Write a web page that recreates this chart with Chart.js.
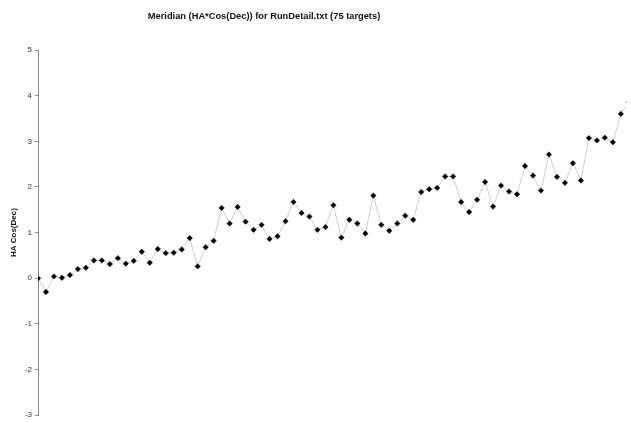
<!DOCTYPE html>
<html lang="en">
<head>
  <meta charset="UTF-8" />
  <title>Meridian (HA*Cos(Dec)) for RunDetail.txt</title>
  <script src="https://cdn.jsdelivr.net/npm/chart.js"></script>
  <style>
    html, body {
      margin: 0;
      padding: 0;
      background: #fff;
      overflow: hidden;
    }
    #wrap {
      width: 631px;
      height: 423px;
    }
  </style>
</head>
<body>
  <div id="wrap"><canvas id="meridian" width="631" height="423"></canvas></div>

  <script>
    // HA*Cos(Dec) per target, in run order
    const haCosDec = [
      0.00, -0.30, 0.04, 0.01, 0.07, 0.20, 0.23, 0.39, 0.39, 0.31,
      0.44, 0.32, 0.38, 0.58, 0.34, 0.64, 0.55, 0.56, 0.63, 0.88,
      0.26, 0.68, 0.82, 1.54, 1.20, 1.56, 1.24, 1.06, 1.17, 0.86,
      0.92, 1.25, 1.67, 1.43, 1.35, 1.06, 1.12, 1.60, 0.89, 1.28,
      1.20, 0.98, 1.81, 1.17, 1.04, 1.20, 1.37, 1.28, 1.89, 1.95,
      1.98, 2.23, 2.23, 1.67, 1.45, 1.72, 2.11, 1.57, 2.03, 1.90,
      1.84, 2.46, 2.25, 1.92, 2.71, 2.22, 2.09, 2.52, 2.14, 3.07,
      3.02, 3.08, 2.98, 3.60, 3.86
    ];
    const targetNo = haCosDec.map((v, i) => i);
    const yTicks = [-3, -2, -1, 0, 1, 2, 3, 4, 5];

    const chartTitle = 'Meridian (HA*Cos(Dec)) for RunDetail.txt (75 targets)';

    // title sits left of centre, over the original plot width
    const titlePlugin = {
      id: 'plotTitle',
      afterDraw(chart) {
        const ctx = chart.ctx;
        ctx.save();
        ctx.font = 'bold 9.3px "Liberation Sans", Arial, sans-serif';
        ctx.fillStyle = '#111';
        ctx.textAlign = 'center';
        ctx.textBaseline = 'middle';
        ctx.fillText(chartTitle, 264, 16);
        ctx.restore();
      }
    };

    new Chart(document.getElementById('meridian'), {
      type: 'line',
      data: {
        datasets: [{
          data: targetNo.map((x, i) => ({ x: x, y: haCosDec[i] })),
          borderColor: '#cfcfcf',
          borderWidth: 1,
          tension: 0,
          pointStyle: 'rectRot',
          pointRadius: 2.7,
          pointBackgroundColor: '#000',
          pointBorderColor: '#111',
          pointBorderWidth: 0.6
        }]
      },
      options: {
        responsive: false,
        animation: false,
        layout: { padding: { top: 50, bottom: 7, left: 0, right: 0 } },
        plugins: {
          legend: { display: false },
          title: { display: false },
          tooltip: { enabled: false }
        },
        scales: {
          x: {
            type: 'linear',
            display: false,
            min: 0,
            max: 73.7
          },
          y: {
            min: -3,
            max: 5,
            afterFit(scale) { scale.width = 38; },
            afterBuildTicks(scale) { scale.ticks = yTicks.map(v => ({ value: v })); },
            border: { display: true, color: '#8a8a8a', width: 1 },
            grid: {
              drawOnChartArea: false,
              drawTicks: true,
              tickLength: 3,
              tickColor: '#8a8a8a'
            },
            ticks: {
              padding: 3,
              color: '#333',
              font: { family: '"Liberation Sans", Arial, sans-serif', size: 8 }
            },
            title: {
              display: true,
              text: 'HA Cos(Dec)',
              color: '#111',
              font: { family: '"Liberation Sans", Arial, sans-serif', size: 8, weight: 'bold' },
              padding: { top: 9, bottom: 0 }
            }
          }
        }
      },
      plugins: [titlePlugin]
    });
  </script>
</body>
</html>
